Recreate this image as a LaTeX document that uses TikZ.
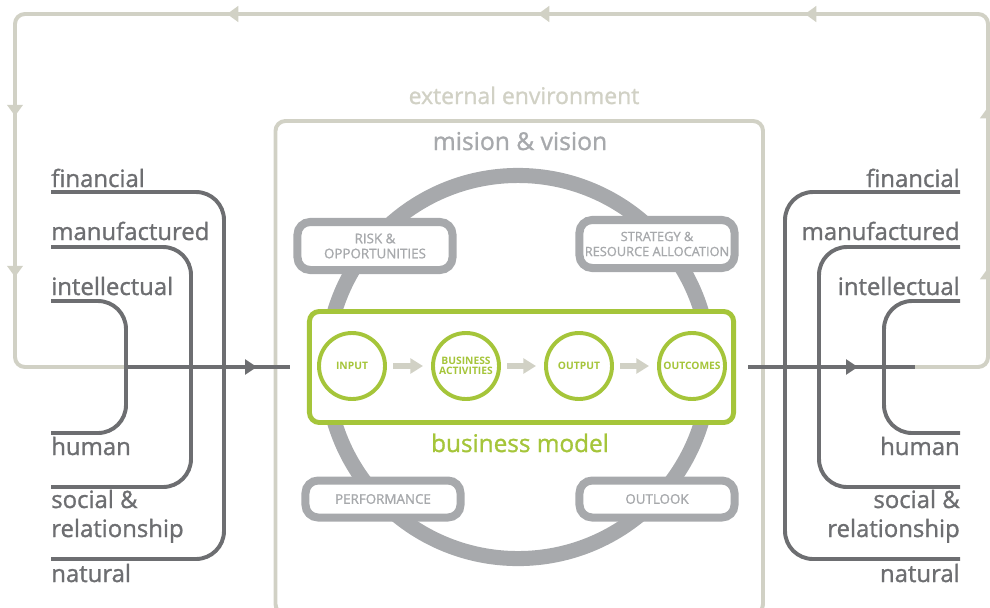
\documentclass[tikz,border=0pt]{standalone}
\usepackage{fontspec}
\setmainfont{Open Sans}
\newfontfamily\medfont{Open Sans}[FakeBold=1.2]
\usetikzlibrary{arrows.meta, positioning}
\definecolor{loopgray}{RGB}{209,209,197}
\definecolor{capgray}{RGB}{109,110,113}
\definecolor{ringgray}{RGB}{167,169,172}
\definecolor{bmgreen}{RGB}{165,197,58}

\begin{document}
\begin{tikzpicture}[x=0.025cm,y=-0.025cm,
    loopline/.style={draw=loopgray,line width=2.8pt,rounded corners=7pt},
    looptip/.style={loopline,-{Triangle[length=8pt,width=11pt]}},
    capline/.style={draw=capgray,line width=2.8pt,rounded corners=0.7cm},
    captext/.style={text=capgray,font=\medfont\fontsize{17}{20}\selectfont,inner sep=0pt},
    flowline/.style={draw=capgray,line width=2.8pt},
    sidebox/.style={draw=ringgray,line width=5.7pt,fill=white,rounded corners=9pt,
        minimum width=3.875cm,minimum height=1.2cm,align=center,text=ringgray,
        font=\medfont\fontsize{9.5}{10.7}\selectfont,inner sep=1pt},
    stage/.style={circle,draw=bmgreen,line width=2.8pt,fill=white,minimum size=1.65cm,
        inner sep=0pt,align=center,text=bmgreen,font=\bfseries\fontsize{7.3}{8}\selectfont},
    stagearrow/.style={draw=loopgray,line width=4.3pt,-{Triangle[length=9pt,width=10.5pt]},
        shorten <=4.3pt,shorten >=5.7pt}]
    \clip (0,0) rectangle (990,607);

    % feedback loop of the capitals
    \draw[loopline] (915,367) -| (988,14) -| (15,367) -- (125,367);
    \draw[looptip] (237,14) -- (227,14);
    \draw[looptip] (548,14) -- (538,14);
    \draw[looptip] (815,14) -- (805,14);
    \draw[looptip] (15,106) -- (15,116);
    \draw[looptip] (15,267) -- (15,277);
    \draw[looptip] (988,117) -- (988,107);
    \draw[looptip] (988,278) -- (988,268);

    % organisation
    \node[text=loopgray,font=\medfont\fontsize{16.3}{18}\selectfont,anchor=base] (extenv) at (524,104) {external environment};
    \draw[draw=loopgray,line width=2.8pt,rounded corners=7pt] (275.5,121) rectangle (763,614);
    \node[text=ringgray,font=\medfont\fontsize{17.5}{18}\selectfont,anchor=base] (mision) at (520,150) {mision \& vision};
    \draw[ringgray,line width=10.7pt] (518,367) circle [radius=4.7875cm];

    \node[sidebox] (risk) at (375,246) {RISK \&\\OPPORTUNITIES};
    \node[sidebox,font=\medfont\fontsize{9.1}{10.7}\selectfont] (strategy) at (657,244) {STRATEGY \&\\RESOURCE ALLOCATION};
    \node[sidebox,minimum height=0.925cm] (perf) at (383,499) {PERFORMANCE};
    \node[sidebox,minimum height=0.925cm] (outlook) at (657,499) {OUTLOOK};

    % business model
    \node[draw=bmgreen,line width=3.5pt,fill=white,rounded corners=7pt,minimum width=10.6cm,minimum height=2.775cm] (bmbox) at (521.5,367) {};
    \node[stage] (input) at (352,366) {INPUT};
    \node[stage] (bizact) at (466,366) {BUSINESS\\[-1pt]ACTIVITIES};
    \node[stage] (output) at (579,366) {OUTPUT};
    \node[stage] (outcomes) at (692,366) {OUTCOMES};
    \draw[stagearrow] (input) -- (bizact);
    \draw[stagearrow] (bizact) -- (output);
    \draw[stagearrow] (output) -- (outcomes);
    \node[text=bmgreen,font=\medfont\fontsize{17.3}{19}\selectfont,anchor=base] (bmlabel) at (520,452) {business model};

    % capitals in
    \node[captext,anchor=base west] (lfin) at (51,187) {financial};
    \node[captext,anchor=base west] (lman) at (51,240) {manufactured};
    \node[captext,anchor=base west] (lint) at (51,295) {intellectual};
    \node[captext,anchor=base west] (lhum) at (51,455) {human};
    \node[captext,anchor=base west] (lsoc) at (51,508) {social \&};
    \node[captext,anchor=base west] (lrel) at (51,537) {relationship};
    \node[captext,anchor=base west] (lnat) at (51,582) {natural};
    \draw[capline] (51,192) -| (224,559) -- (51,559);
    \draw[capline] (51,247) -| (191,487) -- (51,487);
    \draw[capline] (51,301) -| (126,433) -- (51,433);
    \coordinate (lstart) at (125,367);
    \coordinate (ltip) at (257,367);
    \coordinate (lend) at (290,367);
    \draw[flowline] (lstart) -- (lend);
    \draw[flowline,-{Triangle[length=8.5pt,width=10.5pt]}] (lstart) -- (ltip);

    % capitals out
    \node[captext,anchor=base east] (rfin) at (960,187) {financial};
    \node[captext,anchor=base east] (rman) at (960,240) {manufactured};
    \node[captext,anchor=base east] (rint) at (960,295) {intellectual};
    \node[captext,anchor=base east] (rhum) at (960,455) {human};
    \node[captext,anchor=base east] (rsoc) at (960,508) {social \&};
    \node[captext,anchor=base east] (rrel) at (960,537) {relationship};
    \node[captext,anchor=base east] (rnat) at (960,582) {natural};
    \draw[capline] (960,192) -| (785,559) -- (960,559);
    \draw[capline] (960,247) -| (819,487) -- (960,487);
    \draw[capline] (960,301) -| (884,433) -- (960,433);
    \coordinate (rstart) at (748,367);
    \coordinate (rtip) at (858,367);
    \coordinate (rend) at (915,367);
    \draw[flowline] (rstart) -- (rend);
    \draw[flowline,-{Triangle[length=8.5pt,width=10.5pt]}] (rstart) -- (rtip);
\end{tikzpicture}
\end{document}
